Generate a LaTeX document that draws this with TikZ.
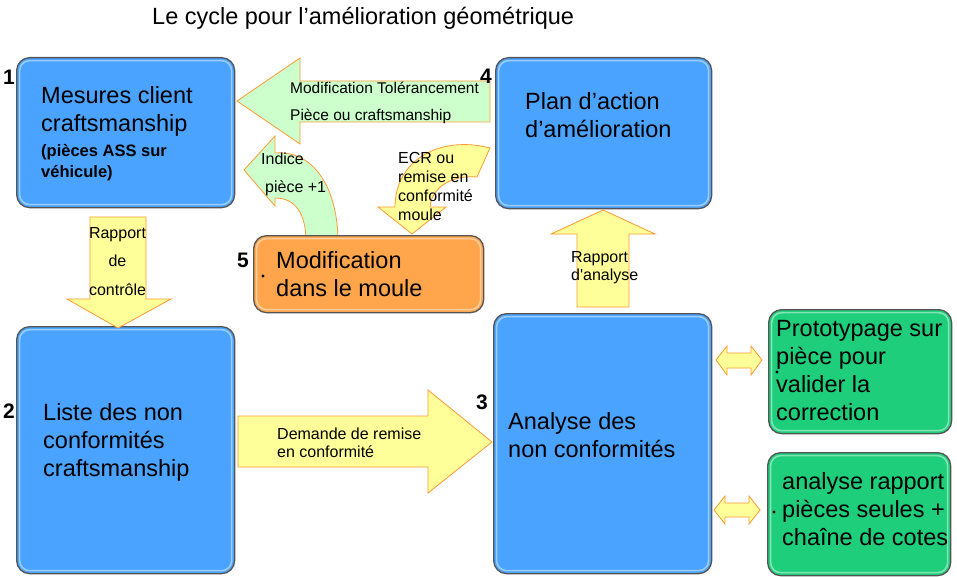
\documentclass[tikz,border=0pt]{standalone}
\usepackage{fontspec}
\setmainfont{Liberation Sans}
\definecolor{boxblue}{RGB}{74,163,255}
\definecolor{boxorange}{RGB}{255,166,77}
\definecolor{boxgreen}{RGB}{30,206,122}
\definecolor{boxline}{RGB}{85,85,85}
\definecolor{arrowgreen}{RGB}{204,255,204}
\definecolor{arrowyellow}{RGB}{255,255,153}
\definecolor{arrowline}{RGB}{255,153,51}
\begin{document}
\begin{tikzpicture}[x=1pt,y=-1pt]
    \tikzset{
        box/.style={draw=boxline, line width=1.3pt, rounded corners=13pt, inner sep=0pt, anchor=north west,
            path picture={\draw[white, opacity=0.45, line width=1.6pt, rounded corners=10pt]
                ([shift={(3pt,-3pt)}]path picture bounding box.north west) rectangle
                ([shift={(-3pt,3pt)}]path picture bounding box.south east);}},
        bluebox/.style={box, fill=boxblue},
        orangebox/.style={box, fill=boxorange},
        greenbox/.style={box, fill=boxgreen},
        bigtxt/.style={font=\fontsize{23.5}{28}\selectfont, align=left, inner sep=0pt, anchor=base west},
        subtxt/.style={font=\bfseries\fontsize{16.5}{21.5}\selectfont, align=left, inner sep=0pt, anchor=base west},
        smalltxt/.style={font=\fontsize{16}{19}\selectfont, align=left, inner sep=0pt, anchor=base west},
        numtxt/.style={font=\bfseries\fontsize{21}{21}\selectfont, inner sep=0pt, anchor=base west},
        greenarrow/.style={fill=arrowgreen, draw=arrowline, line width=0.8pt, line join=miter},
        yellowarrow/.style={fill=arrowyellow, draw=arrowline, line width=0.8pt, line join=miter},
        dot/.style={circle, fill=black, inner sep=1.1pt}
    }
    \useasboundingbox (0,0) rectangle (957,577);

    \node[font=\fontsize{23.5}{28}\selectfont, inner sep=0pt, anchor=base west] (titre) at (152,25)
        {Le cycle pour l’amélioration géométrique};

    \draw[greenarrow] (306,242) .. controls (306,213) and (295,198) .. (275,198) -- (275,206) -- (244,170)
        -- (275,136) -- (275,153) .. controls (315,150) and (338,190) .. (338,242) -- cycle;
    \draw[yellowarrow] (378,207) -- (412,234) -- (446,207) -- (430,207) .. controls (432,185) and (455,175) .. (477,177)
        -- (490,148) .. controls (440,135) and (395,160) .. (395,207) -- cycle;

    \node[bluebox, minimum width=218pt, minimum height=150pt] (mesures) at (16,57) {};
    \node[bluebox, minimum width=216pt, minimum height=151pt] (plan) at (495,57) {};
    \node[orangebox, minimum width=230pt, minimum height=77pt] (moule) at (253,235) {};
    \node[bluebox, minimum width=218pt, minimum height=247pt] (liste) at (16,326) {};
    \node[bluebox, minimum width=218pt, minimum height=260pt] (analyse) at (493,313) {};
    \node[greenbox, minimum width=183pt, minimum height=124pt] (proto) at (768,309) {};
    \node[greenbox, minimum width=183pt, minimum height=123pt] (rapport) at (767,452) {};

    \draw[greenarrow] (237,101) -- (300,58) -- (300,81) -- (490,81) -- (490,122) -- (300,122) -- (300,144) -- cycle;
    \draw[yellowarrow] (118,328) -- (67,299) -- (90,299) -- (90,217) -- (146,217) -- (146,299) -- (171,299) -- cycle;
    \draw[yellowarrow] (603,210) -- (655,234) -- (629,234) -- (629,307) -- (577,307) -- (577,234) -- (551,234) -- cycle;
    \draw[yellowarrow] (492,442) -- (428,493) -- (428,467) -- (238,467) -- (238,416) -- (428,416) -- (428,390) -- cycle;
    \draw[yellowarrow] (716,360) -- (727,346) -- (727,353) -- (751,353) -- (751,346) -- (762,360)
        -- (751,375) -- (751,368) -- (727,368) -- (727,375) -- cycle;
    \draw[yellowarrow] (714,510) -- (725,496) -- (725,503) -- (749,503) -- (749,496) -- (760,510)
        -- (749,524) -- (749,517) -- (725,517) -- (725,524) -- cycle;

    \node[bigtxt] (mesurestxt) at (41,132) {Mesures client\\craftsmanship};
    \node[subtxt] (asstxt) at (41,178) {(pièces ASS sur\\véhicule)};
    \node[bigtxt] (plantxt) at (525,138) {Plan d’action\\d’amélioration};
    \node[bigtxt] (mouletxt) at (276,296) {Modification\\dans le moule};
    \node[bigtxt] (listetxt) at (43,476) {Liste des non\\conformités\\craftsmanship};
    \node[bigtxt] (analysetxt) at (508,457) {Analyse des\\non conformités};
    \node[bigtxt] (prototxt) at (776,420) {Prototypage sur\\pièce pour\\valider la\\correction};
    \node[bigtxt] (rapporttxt) at (782,545) {analyse rapport\\pièces seules +\\chaîne de cotes};
    \node[dot] (dotmoule) at (263,276) {};
    \node[dot] (dotproto) at (777,372) {};
    \node[dot] (dotrapport) at (774,512) {};

    \node[smalltxt, font=\fontsize{15.5}{27.5}\selectfont] (toltxt) at (290,121) {Modification Tolérancement\\Pièce ou craftsmanship};
    \node[smalltxt, font=\fontsize{16}{28.3}\selectfont] (indicetxt) at (261,193) {Indice\\\hspace*{4pt}pièce +1};
    \node[smalltxt] (ecrtxt) at (398,221) {ECR ou\\remise en\\conformité\\moule};
    \node[smalltxt, font=\fontsize{16}{28.3}\selectfont, align=center, anchor=base] (controletxt) at (117.5,295)
        {Rapport\\de\\contrôle};
    \node[smalltxt, font=\fontsize{16}{17.5}\selectfont] (analysearrowtxt) at (571,280) {Rapport\\d\textquotesingle analyse};
    \node[smalltxt, font=\fontsize{16}{17.5}\selectfont] (demandetxt) at (277,457) {Demande de remise\\en conformité};

    \node[numtxt] (n1) at (3,85) {1};
    \node[numtxt] (n2) at (3,418) {2};
    \node[numtxt] (n3) at (476,409) {3};
    \node[numtxt] (n4) at (480,84) {4};
    \node[numtxt] (n5) at (237,267) {5};
\end{tikzpicture}
\end{document}
